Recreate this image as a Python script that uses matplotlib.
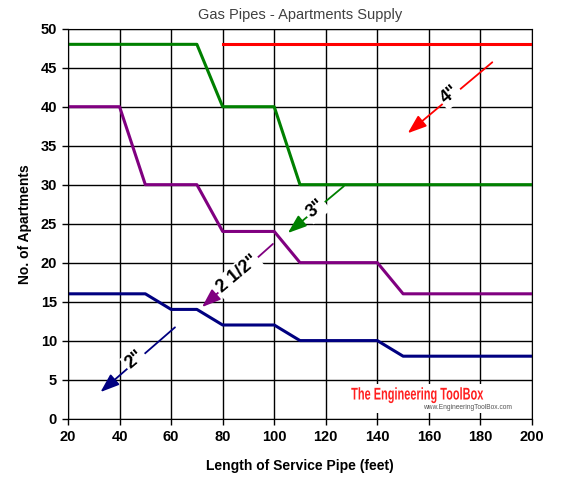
import matplotlib
matplotlib.use("Agg")
import matplotlib.pyplot as plt
from matplotlib.textpath import TextPath
from matplotlib.patches import PathPatch
from matplotlib.font_manager import FontProperties
from matplotlib.transforms import Affine2D, IdentityTransform

plt.rcParams['font.family'] = ['Liberation Sans', 'DejaVu Sans']

# pipe size curves: length of service pipe (ft) -> no. of apartments
x_4in = [80, 200]
y_4in = [48, 48]
x_3in = [20, 70, 80, 100, 110, 200]
y_3in = [48, 48, 40, 40, 30, 30]
x_25in = [20, 40, 50, 70, 80, 100, 110, 140, 150, 200]
y_25in = [40, 40, 30, 30, 24, 24, 20, 20, 16, 16]
x_2in = [20, 50, 60, 70, 80, 100, 110, 140, 150, 200]
y_2in = [16, 16, 14, 14, 12, 12, 10, 10, 8, 8]

# arrow labels: text, start (x, y), end (x, y), label position
labels = ['4"', '3"', '2 1/2"', '2"']
arrow_start = [(184.6, 45.7), (127.0, 29.8), (99.5, 22.4), (61.5, 11.7)]
arrow_end = [(151.8, 36.6), (105.3, 23.8), (72.0, 14.3), (32.6, 3.4)]
label_pos = [(168.2, 41.5), (116.0, 26.9), (85.8, 18.5), (46.0, 7.5)]
colours = ['#ff0000', '#008000', '#800080', '#000080']

fig = plt.figure(figsize=(5.62, 4.93), dpi=100)
ax = fig.add_axes([0.121, 0.151, 0.8256, 0.7907])

ax.plot(x_4in, y_4in, color=colours[0], lw=2.2)
ax.plot(x_3in, y_3in, color=colours[1], lw=2.2)
ax.plot(x_25in, y_25in, color=colours[2], lw=2.2)
ax.plot(x_2in, y_2in, color=colours[3], lw=2.2)

ax.set_xlim(20, 200)
ax.set_ylim(0, 50)
ax.set_xticks(range(20, 201, 20))
ax.set_yticks(range(0, 51, 5))
ax.grid(True, color='black', lw=1)
ax.set_axisbelow(True)
for s in ax.spines.values():
    s.set_color('black')
ax.tick_params(direction='out', length=4, width=1, labelsize=10.5, pad=4)
for t in ax.get_xticklabels() + ax.get_yticklabels():
    t.set_fontweight('bold')

ax.set_title('Gas Pipes - Apartments Supply', fontsize=10.5, color='#404040', pad=7)
ax.set_xlabel('Length of Service Pipe (feet)', fontsize=10, fontweight='bold', labelpad=11)
ax.set_ylabel('No. of Apartments', fontsize=10, fontweight='bold', labelpad=6)

for lab, st, en, lp, c in zip(labels, arrow_start, arrow_end, label_pos, colours):
    ax.annotate('', xy=en, xytext=st,
                arrowprops=dict(arrowstyle='-|>,head_length=1.15,head_width=0.42',
                                color=c, lw=1.3, shrinkA=0, shrinkB=0))
    ax.text(lp[0], lp[1], lab, rotation=40, ha='center', va='center',
            fontsize=13, fontweight='bold', color='black',
            bbox=dict(facecolor='white', edgecolor='none', pad=1.5))

# logo: white box, condensed red title, small url
ax.add_patch(plt.Rectangle((126, 0.65), 68, 3.8, facecolor='white',
                           edgecolor='none', zorder=1.5))
logo = TextPath((0, 0), 'The Engineering ToolBox', size=17,
                prop=FontProperties(family='Liberation Sans', weight='bold'))
ext = logo.get_extents()
cx, cy = ax.transData.transform((155.5, 3.0))
sx = 132.0 / ext.width
tr = Affine2D().translate(-(ext.x0 + ext.width / 2), -(ext.y0 + ext.height / 2)) \
    .scale(sx, 1.0).translate(cx, cy)
fig.patches.append(PathPatch(tr.transform_path(logo), facecolor='#ff2020',
                             edgecolor='none', transform=IdentityTransform(),
                             figure=fig))
ax.text(175, 1.45, 'www.EngineeringToolBox.com', ha='center', va='center',
        fontsize=4.8, color='#555555', zorder=3)

fig.savefig('out.png', dpi=100)
